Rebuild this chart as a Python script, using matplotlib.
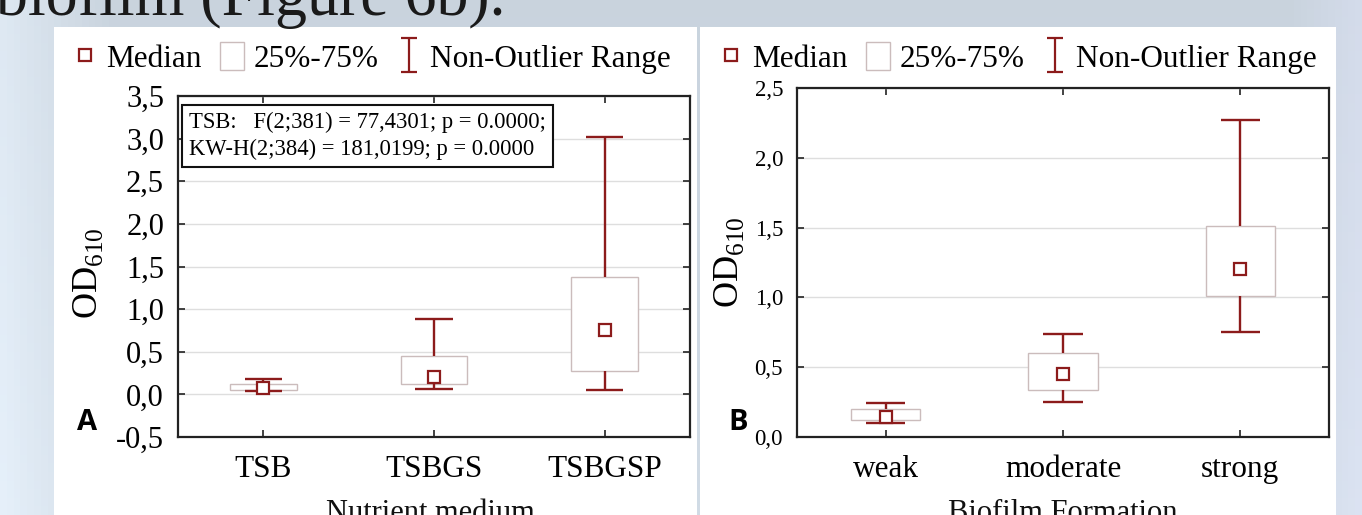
import numpy as np
import matplotlib.pyplot as plt
from matplotlib.lines import Line2D
from matplotlib.patches import Patch, Rectangle
from matplotlib.path import Path

plt.rcParams['font.family'] = 'Liberation Serif'

# ---- data ----
# panel A: nutrient medium
media = ['TSB', 'TSBGS', 'TSBGSP']
med_a = [0.075, 0.20, 0.75]
q1_a = [0.05, 0.12, 0.27]
q3_a = [0.12, 0.45, 1.38]
lo_a = [0.04, 0.06, 0.05]
hi_a = [0.18, 0.89, 3.02]
yticks_a = [-0.5, 0.0, 0.5, 1.0, 1.5, 2.0, 2.5, 3.0, 3.5]
ylabels_a = ['-0,5', '0,0', '0,5', '1,0', '1,5', '2,0', '2,5', '3,0', '3,5']
stats_text = 'TSB:   F(2;381) = 77,4301; p = 0.0000;\nKW-H(2;384) = 181,0199; p = 0.0000'

# panel B: biofilm formation
biofilm = ['weak', 'moderate', 'strong']
med_b = [0.14, 0.45, 1.20]
q1_b = [0.12, 0.34, 1.01]
q3_b = [0.20, 0.60, 1.51]
lo_b = [0.10, 0.25, 0.75]
hi_b = [0.24, 0.74, 2.27]
yticks_b = [0.0, 0.5, 1.0, 1.5, 2.0, 2.5]
ylabels_b = ['0,0', '0,5', '1,0', '1,5', '2,0', '2,5']

legend_labels = ['Median', '25%-75%', 'Non-Outlier Range']

RED = '#8c1b1b'
BOXEDGE = '#cbbcbc'
W, H = 1362, 515


def fx(px):
    return px / W


def fy(py):
    return 1 - py / H


fig = plt.figure(figsize=(W / 100, H / 100), dpi=100)

# slide background
bg = fig.add_axes([0, 0, 1, 1], zorder=-10)
gx = np.linspace(0, 1, 200)
gy = np.linspace(0, 1, 60)
X, Y = np.meshgrid(gx, gy)
base = np.array([0.79, 0.83, 0.87])
left_light = np.clip(1 - X / 0.08, 0, 1)[..., None] * 0.08
right_tint = np.clip((X - 0.95) / 0.05, 0, 1)[..., None] * np.array([0.04, 0.03, 0.05])
img = np.clip(base + left_light + right_tint + (Y[..., None] * 0.03), 0, 1)
bg.imshow(img, extent=[0, 1, 0, 1], aspect='auto', origin='upper')
bg.set_xlim(0, 1)
bg.set_ylim(0, 1)
bg.axis('off')

# white panels
for x0, x1 in [(54, 697), (700, 1336)]:
    fig.patches.append(Rectangle((fx(x0), 0), fx(x1) - fx(x0), fy(27), transform=fig.transFigure,
                                 facecolor='white', edgecolor='none', zorder=-5))

# slide title (cut off at the top, as on the slide)
fig.text(fx(-4), fy(15), 'biofilm (Figure 6b).', fontsize=46, color='#1a1a1a', va='baseline', ha='left')


def draw_box(ax, med, q1, q3, lo, hi):
    x = np.arange(len(med))
    ax.bar(x, np.array(q3) - np.array(q1), bottom=q1, width=0.39, facecolor='white',
           edgecolor=BOXEDGE, linewidth=1.0, zorder=3)
    ax.vlines(x, lo, q1, color=RED, lw=1.7, zorder=4)
    ax.vlines(x, q3, hi, color=RED, lw=1.7, zorder=4)
    ax.hlines(lo, x - 0.11, x + 0.11, color=RED, lw=1.7, zorder=4)
    ax.hlines(hi, x - 0.11, x + 0.11, color=RED, lw=1.7, zorder=4)
    ax.plot(x, med, 's', ms=8, mfc='white', mec=RED, mew=1.6, zorder=5)


def style_axes(ax, cats, yticks, ylabels, ylim, tick_fs):
    ax.set_xlim(-0.5, 2.5)
    ax.set_ylim(*ylim)
    ax.set_xticks(range(len(cats)))
    ax.set_xticklabels(cats, fontsize=22.5)
    ax.set_yticks(yticks)
    ax.set_yticklabels(ylabels, fontsize=tick_fs)
    ax.tick_params(direction='in', length=5, width=1.2, top=True, right=True, color='#222222')
    ax.tick_params(axis='x', pad=13)
    ax.tick_params(axis='y', pad=10)
    ax.grid(axis='y', color='#dedede', lw=1.0, zorder=0)
    ax.set_axisbelow(True)
    for s in ax.spines.values():
        s.set_linewidth(1.6)
        s.set_color('#222222')


axA = fig.add_axes([fx(178), fy(437), fx(690) - fx(178), fy(96) - fy(437)])
draw_box(axA, med_a, q1_a, q3_a, lo_a, hi_a)
style_axes(axA, media, yticks_a, ylabels_a, (-0.5, 3.5), 22)
axA.text(0.022, 0.955, stats_text, transform=axA.transAxes, fontsize=16.3, va='top', ha='left',
         linespacing=1.4,
         bbox=dict(boxstyle='square,pad=0.3', facecolor='white', edgecolor='#111111', linewidth=1.5))

axB = fig.add_axes([fx(797), fy(437), fx(1329) - fx(797), fy(88) - fy(437)])
draw_box(axB, med_b, q1_b, q3_b, lo_b, hi_b)
style_axes(axB, biofilm, yticks_b, ylabels_b, (0, 2.5), 16.5)

# y labels
fig.text(fx(88), fy(273), 'OD$_{\\mathregular{610}}$', rotation=90, fontsize=26, ha='center', va='center')
fig.text(fx(729), fy(262), 'OD$_{\\mathregular{610}}$', rotation=90, fontsize=26, ha='center', va='center')

# x labels (cut off at the bottom, as on the slide)
fig.text(fx(430), fy(499), 'Nutrient medium', fontsize=22, ha='center', va='top', color='#111111')
fig.text(fx(1063), fy(499), 'Biofilm Formation', fontsize=22, ha='center', va='top', color='#111111')

# panel letters
fig.text(fx(87), fy(422), 'A', fontsize=21, fontweight='bold', family='Open Sans', ha='center', va='center')
fig.text(fx(738), fy(422), 'B', fontsize=21, fontweight='bold', family='Open Sans', ha='center', va='center')

# legends
ibeam = Path([(-0.45, 1), (0.45, 1), (0, 1), (0, -1), (-0.45, -1), (0.45, -1)],
             [Path.MOVETO, Path.LINETO, Path.MOVETO, Path.LINETO, Path.MOVETO, Path.LINETO])
handles = [
    Line2D([], [], ls='none', marker='s', ms=8, mfc='white', mec=RED, mew=1.6),
    Patch(facecolor='white', edgecolor=BOXEDGE, linewidth=1.0),
    Line2D([], [], ls='none', marker=ibeam, ms=24, mfc='none', mec=RED, mew=1.6),
]
for cx in [372, 1018]:
    fig.legend(handles, legend_labels, loc='center', bbox_to_anchor=(fx(cx), fy(58)), ncol=3,
               frameon=False, fontsize=22.5, handlelength=0.75, handleheight=1.0, handletextpad=0.3,
               columnspacing=0.6, borderpad=0)

fig.savefig('out.png', dpi=100)
